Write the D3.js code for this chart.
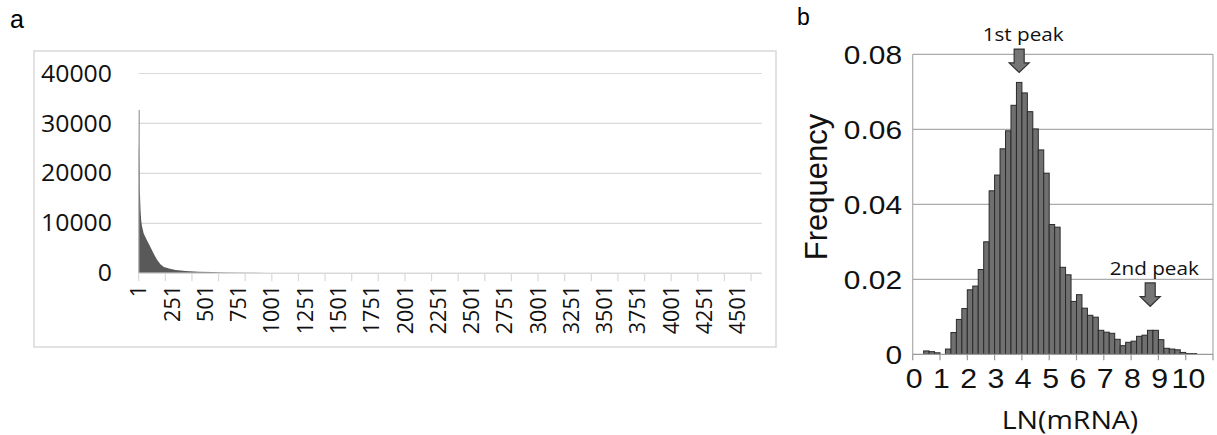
<!DOCTYPE html>
<html>
<head>
<meta charset="utf-8">
<script src="https://cdnjs.cloudflare.com/ajax/libs/d3/7.8.5/d3.min.js"></script>
<style>
  body { margin: 0; background: #fff; }
  svg { display: block; }
</style>
</head>
<body>
<div id="chart"></div>
<script>
var rankA = [1, 2, 4, 6, 8, 11, 15, 20, 25, 38, 50, 63, 88, 114, 139, 164, 190, 228, 278, 354, 451, 550, 650, 800, 950, 1200, 2000, 4680];
var valueA = [32700, 26000, 23500, 21000, 17000, 15500, 12500, 10500, 9500, 8000, 7300, 6600, 5300, 3900, 2700, 1800, 1260, 940, 660, 460, 330, 250, 180, 120, 70, 30, 10, 1];
var yTicksA = [0, 10000, 20000, 30000, 40000];
var xLabelsA = d3.range(1, 4502, 250);
var nCatA = 4680;

// panel b: histogram of LN(mRNA), bins of 0.2 starting at 0
var binStartB = d3.range(0, 52).map(function(i){ return i * 0.2; });
var freqB = [0, 0, 0.0009, 0.0007, 0.0004, 0, 0.0014, 0.0058, 0.0093, 0.0122,
             0.0172, 0.0182, 0.0226, 0.0300, 0.0436, 0.0478, 0.0548, 0.0596, 0.0664, 0.0725,
             0.0697, 0.0647, 0.0601, 0.0545, 0.0483, 0.0346, 0.0339, 0.0232, 0.0212, 0.0141,
             0.0159, 0.0123, 0.0104, 0.0099, 0.0064, 0.0059, 0.0056, 0.0040, 0.0023, 0.0032,
             0.0035, 0.0048, 0.0051, 0.0064, 0.0064, 0.0039, 0.0016, 0.0014, 0.0012, 0.0005,
             0.0002, 0.0002];
var yTicksB = [0, 0.02, 0.04, 0.06, 0.08];
var xLabelsB = d3.range(0, 11);
var peaks = [{label: "1st peak", bin: 19, gap: 10}, {label: "2nd peak", bin: 43, gap: 24}];

var svg = d3.select("#chart").append("svg")
    .attr("width", 1217)
    .attr("height", 435);

// ---------- panel a ----------
svg.append("text").attr("x", 10).attr("y", 28)
    .style("font-family", "Liberation Sans, Arial").style("font-size", "25px").text("a");

svg.append("rect")
    .attr("x", 34).attr("y", 51).attr("width", 742).attr("height", 296)
    .attr("fill", "none").attr("stroke", "#d9d9d9").attr("stroke-width", 1.5);

var xa = d3.scaleLinear().domain([0, nCatA]).range([138.7, 761.7]);
var ya = d3.scaleLinear().domain([0, 40000]).range([273.3, 73.5]);

svg.append("g").selectAll("line")
    .data(yTicksA.slice(1))
    .enter().append("line")
    .attr("x1", xa(0)).attr("x2", xa(nCatA))
    .attr("y1", function(d){ return ya(d); })
    .attr("y2", function(d){ return ya(d); })
    .attr("stroke", "#d9d9d9").attr("stroke-width", 1.2);

svg.append("g").selectAll("text")
    .data(yTicksA)
    .enter().append("text")
    .attr("transform", function(d){ return "translate(112," + ya(d) + ") scale(1.08,1)"; })
    .attr("dy", "0.35em")
    .attr("text-anchor", "end")
    .style("font-family", "Open Sans").style("font-size", "23px").style("fill", "#111")
    .text(function(d){ return d; });

var area = d3.area()
    .x(function(d){ return xa(d[0] - 1); })
    .y0(ya(0))
    .y1(function(d){ return ya(d[1]); });

svg.append("path")
    .datum(d3.zip(rankA, valueA))
    .attr("d", area)
    .attr("fill", "#595959");

// first rank drawn as its own thin column, as the spike in the picture
svg.append("line")
    .attr("x1", xa(0) + 0.5).attr("x2", xa(0) + 0.5)
    .attr("y1", ya(valueA[0])).attr("y2", ya(0))
    .attr("stroke", "#8a8a8a").attr("stroke-width", 1);

svg.append("line")
    .attr("x1", xa(0)).attr("x2", xa(nCatA))
    .attr("y1", ya(0)).attr("y2", ya(0))
    .attr("stroke", "#d9d9d9").attr("stroke-width", 1.5);

svg.append("g").selectAll("line")
    .data(d3.range(0, nCatA, 200))
    .enter().append("line")
    .attr("x1", function(d){ return xa(d); }).attr("x2", function(d){ return xa(d); })
    .attr("y1", ya(0)).attr("y2", ya(0) + 8)
    .attr("stroke", "#d9d9d9").attr("stroke-width", 1.2);

svg.append("g").selectAll("text")
    .data(xLabelsA)
    .enter().append("text")
    .attr("transform", function(d){ return "translate(" + xa(d - 0.5) + ",285) rotate(-90)"; })
    .attr("dy", "0.35em")
    .attr("text-anchor", "end")
    .style("font-family", "Open Sans").style("font-size", "21.5px").style("fill", "#111")
    .text(function(d){ return d; });

// ---------- panel b ----------
svg.append("text").attr("x", 797).attr("y", 25)
    .style("font-family", "Liberation Sans, Arial").style("font-size", "23px").text("b");

var xb = d3.scaleLinear().domain([0, 11]).range([912.7, 1213]);
var yb = d3.scaleLinear().domain([0, 0.08]).range([354.3, 54.3]);

svg.append("g").selectAll("line")
    .data(yTicksB.slice(1))
    .enter().append("line")
    .attr("x1", xb(0)).attr("x2", xb(11))
    .attr("y1", function(d){ return yb(d); })
    .attr("y2", function(d){ return yb(d); })
    .attr("stroke", "#ababab").attr("stroke-width", 1.2);

svg.append("line")
    .attr("x1", xb(0)).attr("x2", xb(0)).attr("y1", yb(0.08)).attr("y2", yb(0))
    .attr("stroke", "#ababab").attr("stroke-width", 1.2);
svg.append("line")
    .attr("x1", xb(11)).attr("x2", xb(11)).attr("y1", yb(0.08)).attr("y2", yb(0))
    .attr("stroke", "#ababab").attr("stroke-width", 1.2);

var barsB = d3.zip(binStartB, freqB).filter(function(d){ return d[1] > 0; });

svg.append("g").selectAll("rect")
    .data(barsB)
    .enter().append("rect")
    .attr("x", function(d){ return xb(d[0]); })
    .attr("width", function(d){ return xb(d[0] + 0.2) - xb(d[0]); })
    .attr("y", function(d){ return yb(d[1]); })
    .attr("height", function(d){ return yb(0) - yb(d[1]); })
    .attr("fill", "#707070")
    .attr("stroke", "#2a2a2a").attr("stroke-width", 1);

svg.append("line")
    .attr("x1", xb(0)).attr("x2", xb(11)).attr("y1", yb(0)).attr("y2", yb(0))
    .attr("stroke", "#9a9a9a").attr("stroke-width", 1.3);

svg.append("g").selectAll("line")
    .data(d3.range(0, 12))
    .enter().append("line")
    .attr("x1", function(d){ return xb(d); }).attr("x2", function(d){ return xb(d); })
    .attr("y1", yb(0)).attr("y2", yb(0) + 6)
    .attr("stroke", "#9a9a9a").attr("stroke-width", 1.2);

svg.append("g").selectAll("text")
    .data(yTicksB)
    .enter().append("text")
    .attr("transform", function(d){ return "translate(902," + yb(d) + ") scale(1.15,1)"; })
    .attr("dy", "0.36em")
    .attr("text-anchor", "end")
    .style("font-family", "Liberation Sans, Arial").style("font-size", "26px").style("fill", "#111")
    .text(function(d){ return d === 0 ? "0" : d.toFixed(2); });

svg.append("g").selectAll("text")
    .data(xLabelsB)
    .enter().append("text")
    .attr("transform", function(d){
        var shift = d >= 10 ? 0.1 : 0.05;
        return "translate(" + xb(d + shift) + ",388) scale(1.1,1)";
    })
    .attr("text-anchor", "middle")
    .style("font-family", "Liberation Sans, Arial").style("font-size", "27.5px").style("fill", "#111")
    .text(function(d){ return d; });

svg.append("text")
    .attr("transform", "translate(827,187) rotate(-90)")
    .attr("text-anchor", "middle")
    .style("font-family", "Liberation Sans, Arial").style("font-size", "31px").style("fill", "#111")
    .text("Frequency");

svg.append("text")
    .attr("transform", "translate(1070,429) scale(1.14,1)")
    .attr("text-anchor", "middle")
    .style("font-family", "Open Sans").style("font-size", "25px").style("fill", "#111")
    .text("LN(mRNA)");

// peak annotations: block arrows above the peak bins
var arrowPath = "M-5,-23.4 L5,-23.4 L5,-9.6 L10,-9.6 L0,0 L-10,-9.6 L-5,-9.6 Z";
peaks.forEach(function(p){
    var cx = xb(binStartB[p.bin] + 0.1);
    var tip = yb(freqB[p.bin]) - p.gap;
    svg.append("path")
        .attr("d", arrowPath)
        .attr("transform", "translate(" + cx + "," + tip + ")")
        .attr("fill", "#767676").attr("stroke", "#333").attr("stroke-width", 1.2);
    svg.append("text")
        .attr("transform", "translate(" + (cx + 4) + "," + (tip - 31.5) + ") scale(1.15,1)")
        .attr("text-anchor", "middle")
        .style("font-family", "Open Sans").style("font-size", "18px").style("fill", "#111")
        .text(p.label);
});
</script>
</body>
</html>
